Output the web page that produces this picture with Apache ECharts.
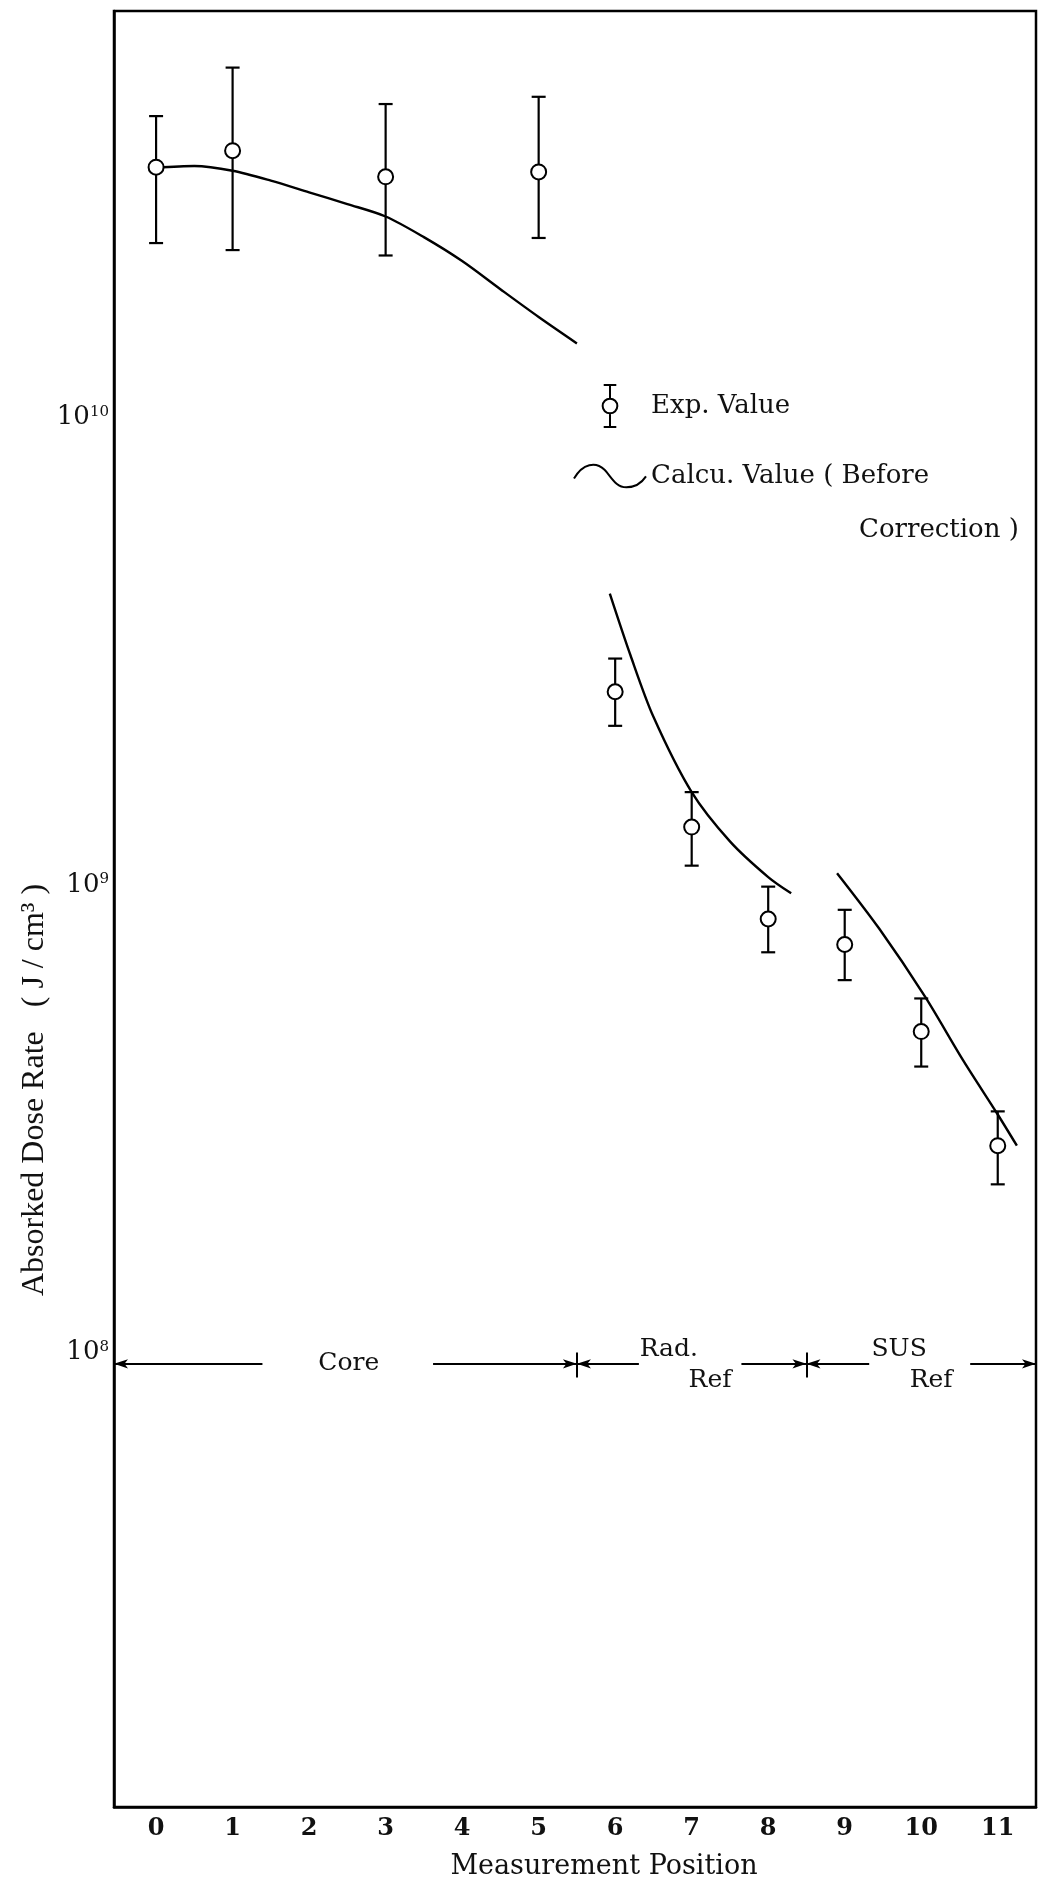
<!DOCTYPE html>
<html>
<head>
<meta charset="utf-8">
<title>Absorbed dose rate by measurement position</title>
<script src="https://cdn.jsdelivr.net/npm/echarts@6/dist/echarts.min.js"></script>
<style>
  html, body { margin: 0; padding: 0; background: #fff; }
  #chart { width: 1039px; height: 1886px; }
</style>
</head>
<body>
<div id="chart"></div>
<script>
const POSITIONS = [0, 1, 3, 5, 6, 7, 8, 9, 10, 11];
const EXP_VALUE = [3.43e10, 3.72e10, 3.27e10, 3.35e10, 2.59e9, 1.33e9, 8.46e8, 7.46e8, 4.86e8, 2.77e8];
const EXP_HIGH  = [4.41e10, 5.60e10, 4.68e10, 4.85e10, 3.05e9, 1.58e9, 9.92e8, 8.85e8, 5.72e8, 3.28e8];
const EXP_LOW   = [2.36e10, 2.28e10, 2.22e10, 2.42e10, 2.19e9, 1.10e9, 7.18e8, 6.26e8, 4.09e8, 2.29e8];

// Calculated values (before correction), one curve per region
const CALC_CORE_X = [0, 0.5, 1, 1.5, 2, 2.5, 3, 3.5, 4, 4.5, 5, 5.5];
const CALC_CORE_Y = [3.42e10, 3.45e10, 3.37e10, 3.21e10, 3.03e10, 2.86e10, 2.69e10, 2.43e10, 2.16e10, 1.88e10, 1.64e10, 1.44e10];
const CALC_RAD_X  = [5.93, 6.2, 6.5, 7.0, 7.5, 8.0, 8.3];
const CALC_RAD_Y  = [4.20e9, 3.10e9, 2.29e9, 1.58e9, 1.24e9, 1.04e9, 9.6e8];
const CALC_SUS_X  = [8.9, 9.45, 10.05, 10.55, 11.0, 11.25];
const CALC_SUS_Y  = [1.06e9, 8.07e8, 5.77e8, 4.21e8, 3.23e8, 2.77e8];

const X_TICKS = [0, 1, 2, 3, 4, 5, 6, 7, 8, 9, 10, 11];

// Region bands: edges, gaps in the arrow line (where the name sits), names
const REGION_EDGES = [-0.55, 5.5, 8.5, 11.5];
const REGION_GAPS  = [[1.39, 3.62], [6.31, 7.65], [9.32, 10.64]];
const REGION_LEVEL = 9.46e7;
const REGION_LABELS = [["Core", 2.12, 0], ["Rad.", 6.32, -1], ["Ref", 6.96, 1], ["SUS", 9.35, -1], ["Ref", 9.85, 1]];

const EXP_NAME  = "Exp. Value";
const CALC_NAME = "Calcu. Value ( Before Correction )";

const SERIF = "DejaVu Serif";
const INK   = "#111";

const ERRBAR_ICON = "path://M2,0H14M8,0V13M8,27V40M2,40H14M15,20A7,7,0,1,1,1,20A7,7,0,1,1,15,20Z";
const WAVE_ICON   = "path://M0,16C8,2 20,0 28,8C34,14 38,24 48,24C56,24 62,20 66,14";

const chart = echarts.init(document.getElementById("chart"), null, { renderer: "canvas" });

const calcSeries = (xs, ys) => ({
  type: "line", name: CALC_NAME, smooth: 0.3, showSymbol: false, silent: true,
  data: xs.map((x, i) => [x, ys[i]]),
  lineStyle: { color: "#000", width: 2.4 }, itemStyle: { color: "#000" }, z: 3,
});

// arrow lines for the region bands
const regionLines = [];
REGION_GAPS.forEach((g, i) => {
  regionLines.push([{ coord: [REGION_EDGES[i], REGION_LEVEL], symbol: "arrow" },
                    { coord: [g[0], REGION_LEVEL], symbol: "none" }]);
  regionLines.push([{ coord: [g[1], REGION_LEVEL], symbol: "none" },
                    { coord: [REGION_EDGES[i + 1], REGION_LEVEL], symbol: "arrow" }]);
});
for (const e of REGION_EDGES.slice(1, -1)) {
  regionLines.push([{ coord: [e, 1.0e8], symbol: "none" }, { coord: [e, 8.85e7], symbol: "none" }]);
}

chart.setOption({
  animation: false,
  backgroundColor: "#fff",
  grid: { left: 114, right: 3, top: 11, bottom: 79, show: true, borderColor: "#000", borderWidth: 2.5 },
  legend: {
    orient: "vertical", left: 568, top: 379, itemWidth: 72, itemHeight: 42, itemGap: 35,
    selectedMode: false,
    textStyle: { fontFamily: SERIF, fontSize: 26, color: INK },
    formatter: n => n === CALC_NAME ? "Calcu. Value ( Before" : n,
    data: [
      { name: EXP_NAME, icon: ERRBAR_ICON, itemStyle: { color: "#fff", borderColor: "#000", borderWidth: 2 } },
      { name: CALC_NAME, icon: WAVE_ICON, itemStyle: { color: "rgba(0,0,0,0)", borderColor: "#000", borderWidth: 2 } },
    ],
  },
  xAxis: {
    type: "value", min: -0.55, max: 11.5,
    axisLine: { show: true, onZero: false, lineStyle: { color: "#000", width: 2.5 } },
    axisTick: { show: false }, splitLine: { show: false },
    axisLabel: { customValues: X_TICKS, margin: 10, fontFamily: SERIF, fontWeight: "bold", fontSize: 24, color: INK },
    name: "Measurement Position", nameLocation: "middle", nameGap: 46,
    nameTextStyle: { fontFamily: SERIF, fontSize: 27, color: INK, padding: [0, 0, 0, 58] },
  },
  yAxis: {
    type: "log", logBase: 10, min: 1.067e7, max: 7.4e10,
    axisLine: { show: true, onZero: false, lineStyle: { color: "#000", width: 2.5 } },
    axisTick: { show: false }, splitLine: { show: false }, minorTick: { show: false },
    axisLabel: {
      margin: 5, showMinLabel: false, showMaxLabel: false,
      formatter: v => {
        const e = Math.log10(v);
        return Math.abs(e - Math.round(e)) < 1e-6 ? `{b|10}{s|${Math.round(e)}}` : "";
      },
      rich: {
        b: { fontFamily: SERIF, fontSize: 26, color: INK },
        s: { fontFamily: SERIF, fontSize: 15, color: INK, verticalAlign: "top" },
      },
    },
  },
  series: [
    {
      type: "custom", name: EXP_NAME, silent: true, z: 4,
      data: POSITIONS.map((p, i) => [p, EXP_LOW[i], EXP_HIGH[i]]),
      encode: { x: 0, y: [1, 2] },
      renderItem: (params, api) => {
        const top = api.coord([api.value(0), api.value(2)]);
        const bot = api.coord([api.value(0), api.value(1)]);
        const hw = 7, st = { stroke: "#000", lineWidth: 2.2 };
        return { type: "group", children: [
          { type: "line", shape: { x1: top[0], y1: top[1], x2: bot[0], y2: bot[1] }, style: st },
          { type: "line", shape: { x1: top[0] - hw, y1: top[1], x2: top[0] + hw, y2: top[1] }, style: st },
          { type: "line", shape: { x1: bot[0] - hw, y1: bot[1], x2: bot[0] + hw, y2: bot[1] }, style: st },
        ]};
      },
    },
    {
      type: "scatter", name: EXP_NAME, silent: true, z: 5,
      data: POSITIONS.map((p, i) => [p, EXP_VALUE[i]]),
      symbol: "circle", symbolSize: 15,
      itemStyle: { color: "#fff", borderColor: "#000", borderWidth: 2, opacity: 1 },
      markLine: {
        silent: true, symbolSize: [7, 14], animation: false,
        label: { show: false },
        lineStyle: { color: "#000", width: 2, type: "solid" },
        data: regionLines,
      },
    },
    calcSeries(CALC_CORE_X, CALC_CORE_Y),
    calcSeries(CALC_RAD_X, CALC_RAD_Y),
    calcSeries(CALC_SUS_X, CALC_SUS_Y),
  ],
});

// text annotations placed from data coordinates
const px = (x, y) => chart.convertToPixel({ gridIndex: 0 }, [x, y]);
const txt = (text, x, y, extra) => ({
  type: "text", x, y, silent: true,
  style: Object.assign({ text, fontFamily: SERIF, fontSize: 25, fill: INK, align: "left", verticalAlign: "middle" }, extra || {}),
});
const graphics = REGION_LABELS.map(([t, xv, row]) => {
  const p = px(xv, REGION_LEVEL);
  return txt(t, p[0], p[1] + (row < 0 ? -14 : row > 0 ? 17 : 0));
});
// second line of the calculated-value legend entry
graphics.push(txt("Correction )", 859, 530, { fontSize: 26 }));
// y axis title, reading bottom to top
graphics.push({
  type: "text", x: 35, y: 1090, rotation: Math.PI / 2, silent: true,
  style: { text: "Absorked Dose Rate   ( J / cm³ )", fontFamily: "Liberation Serif", fontSize: 32,
           fill: INK, align: "center", verticalAlign: "middle" },
});
chart.setOption({ graphic: graphics });
</script>
</body>
</html>
